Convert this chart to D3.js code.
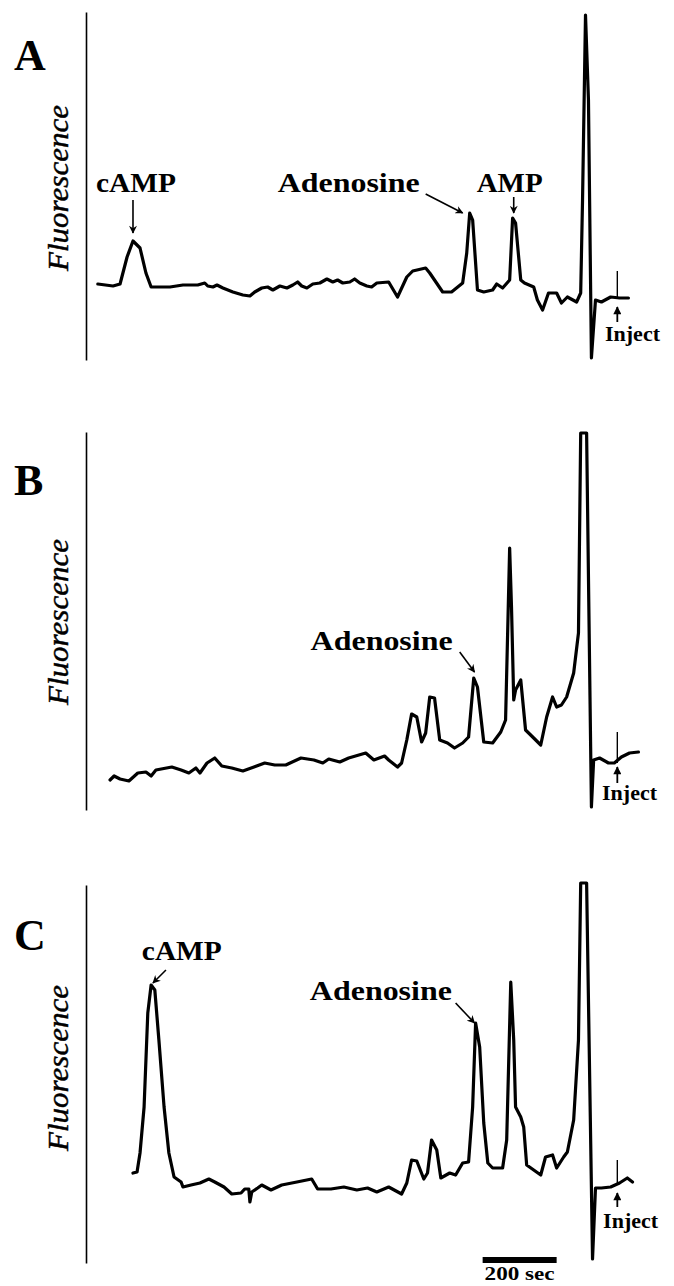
<!DOCTYPE html>
<html><head><meta charset="utf-8">
<script src="https://cdn.jsdelivr.net/npm/d3@7"></script>
<style>html,body{margin:0;padding:0;background:#fff}</style>
</head><body>
<svg id="chart" width="674" height="1286"></svg>
<script>
// ---------- DATA (time in s, fluorescence in arbitrary units) ----------
const panelLabels = ["A", "B", "C"];
const axisTitle = "Fluorescence";

const timeA = [32,73,92,111,127,146,162,176,192,227,262,302,321,329,343,354,370,397,424,443,456,475,491,505,524,543,559,572,583,597,613,632,651,667,680,694,713,726,740,759,772,786,818,842,867,883,918,929,964,988,1018,1029,1037,1045,1058,1075,1099,1110,1126,1145,1153,1161,1175,1185,1210,1220,1234,1250,1272,1285,1301,1326,1337,1342,1350,1358,1366,1377,1393,1418,1442,1466];
const fluorA = [76,74,76,103,119,112,87,73,73,73,75,75,77,74,73,75,72,68,65,64,68,72,73,70,74,72,75,78,74,72,76,77,81,78,80,77,78,81,77,74,73,77,78,63,83,89,92,87,68,68,77,107,147,140,70,68,70,76,72,80,142,137,80,77,73,60,50,67,67,57,63,58,67,160,345,260,2,60,58,63,62,62];

const timeB = [65,76,92,116,140,162,176,189,232,257,278,297,308,327,348,367,394,424,454,483,510,540,581,616,640,656,686,710,756,778,807,818,842,853,867,880,894,907,918,929,942,956,977,996,1018,1034,1048,1058,1075,1099,1121,1134,1145,1150,1156,1161,1175,1188,1210,1229,1245,1261,1272,1285,1299,1318,1331,1337,1353,1366,1372,1388,1412,1428,1447,1469,1493];
const fluorB = [30,34,31,29,37,38,34,40,43,40,37,42,37,47,52,44,42,39,43,47,45,45,52,50,47,51,48,52,57,50,54,50,43,47,70,96,93,68,77,113,112,70,67,62,67,73,132,123,68,67,78,90,262,203,110,120,130,80,72,65,93,113,103,105,113,137,177,377,377,3,50,52,47,47,53,57,58];

const timeC = [127,138,146,157,167,176,186,197,211,224,238,257,262,284,308,332,348,373,394,419,429,440,443,448,464,475,500,529,570,610,626,662,697,732,761,786,818,853,867,880,894,913,923,934,948,959,983,999,1018,1034,1045,1053,1064,1075,1086,1099,1126,1137,1148,1156,1161,1175,1183,1191,1210,1229,1242,1261,1272,1291,1301,1318,1331,1337,1353,1369,1377,1393,1418,1442,1463,1477];
const fluorC = [90,91,110,156,250,278,273,223,156,110,86,81,76,78,80,84,81,76,69,70,74,74,61,71,75,78,73,78,81,84,74,74,76,73,75,71,76,69,80,103,102,84,90,123,113,85,90,88,100,101,156,240,216,140,100,95,95,123,281,223,156,146,136,98,93,88,106,108,95,106,111,143,223,380,380,4,75,75,76,80,85,81];

// full-scale fluorescence of each panel's axis
const fullScale = [348, 378, 378];

// peak annotations: [text, textTime, textFluor, arrowFromT, arrowFromF, arrowToT, arrowToF]
const notesA = [["cAMP",135,168,127,160,127,127],["Adenosine",710,168,918,166,1018,147],["AMP",1145,168,1156,163,1156,147]];
const notesB = [["Adenosine",799,160,1010,158,1050,138]];
const notesC = [["cAMP",259,303,216,293,181,280],["Adenosine",797,263,999,260,1050,240]];

// injection marker: [time, tickFrom, tickTo, arrowFrom, arrowTip, labelTime, labelFluor]
const injectA = [1436,62,89,38,53,1477,19];
const injectB = [1436,47,78,27,43,1469,10];
const injectC = [1436,80,103,56,70,1472,35];

const scaleBarSec = [1072, 1272];
const scaleBarLabel = "200 sec";

// ---------- LAYOUT ----------
const svg = d3.select("#chart");
const x = d3.scaleLinear().domain([0, 1500]).range([86, 86 + 1500 * 0.37]);

const layout = [
  {top: 12, bottom: 360, letterY: 70, titleY: 188, t: timeA, f: fluorA, notes: notesA, inj: injectA},
  {top: 432, bottom: 810, letterY: 495, titleY: 622, t: timeB, f: fluorB, notes: notesB, inj: injectB},
  {top: 885, bottom: 1263, letterY: 950, titleY: 1068, t: timeC, f: fluorC, notes: notesC, inj: injectC}
];

const serif = "'Liberation Serif','Times New Roman',serif";

const defs = svg.append("defs");
defs.append("marker").attr("id", "ah").attr("viewBox", "0 0 10 10")
  .attr("refX", 9).attr("refY", 5).attr("markerWidth", 9).attr("markerHeight", 8)
  .attr("markerUnits", "userSpaceOnUse").attr("orient", "auto")
  .append("path").attr("d", "M0,0 L10,5 L0,10 L3,5 z").attr("fill", "#000");
defs.append("marker").attr("id", "ahi").attr("viewBox", "0 0 10 10")
  .attr("refX", 9).attr("refY", 5).attr("markerWidth", 9).attr("markerHeight", 8)
  .attr("markerUnits", "userSpaceOnUse").attr("orient", "auto")
  .append("path").attr("d", "M0,0 L10,5 L0,10 z").attr("fill", "#000");

const textLen = {"cAMP": 80, "Adenosine": 142, "AMP": 66};

layout.forEach((p, i) => {
  const y = d3.scaleLinear().domain([0, fullScale[i]]).range([p.bottom, p.top]);
  const g = svg.append("g");

  // vertical axis (domain line only)
  g.append("g").attr("transform", `translate(${x(0)},0)`)
    .call(d3.axisRight(y).ticks(0).tickSizeOuter(0))
    .call(a => a.select(".domain").attr("stroke", "#000").attr("stroke-width", 1.6));

  // panel letter
  g.append("text").attr("x", 14).attr("y", p.letterY)
    .attr("font-family", serif).attr("font-weight", "bold").attr("font-size", 44)
    .text(panelLabels[i]);

  // axis title
  g.append("text").attr("transform", `translate(68,${p.titleY}) rotate(-90)`)
    .attr("text-anchor", "middle").attr("font-family", serif).attr("font-style", "italic")
    .attr("font-size", 29).attr("textLength", 166).attr("lengthAdjust", "spacingAndGlyphs")
    .attr("stroke", "#000").attr("stroke-width", 0.45)
    .text(axisTitle);

  // trace
  const pts = p.t.map((t, k) => [t, p.f[k]]);
  g.append("path").datum(pts)
    .attr("d", d3.line().x(d => x(d[0])).y(d => y(d[1])))
    .attr("fill", "none").attr("stroke", "#000").attr("stroke-width", 3.2)
    .attr("stroke-linejoin", "round").attr("stroke-linecap", "round");

  // annotations
  p.notes.forEach(n => {
    g.append("text").attr("x", x(n[1])).attr("y", y(n[2]))
      .attr("text-anchor", "middle").attr("font-family", serif).attr("font-weight", "bold")
      .attr("font-size", 27).attr("textLength", textLen[n[0]]).attr("lengthAdjust", "spacingAndGlyphs")
      .text(n[0]);
    g.append("line").attr("x1", x(n[3])).attr("y1", y(n[4])).attr("x2", x(n[5])).attr("y2", y(n[6]))
      .attr("stroke", "#000").attr("stroke-width", 1.6).attr("marker-end", "url(#ah)");
  });

  // inject marker
  const inj = p.inj;
  g.append("line").attr("x1", x(inj[0])).attr("x2", x(inj[0])).attr("y1", y(inj[1])).attr("y2", y(inj[2]))
    .attr("stroke", "#000").attr("stroke-width", 1.4);
  g.append("line").attr("x1", x(inj[0])).attr("x2", x(inj[0])).attr("y1", y(inj[3])).attr("y2", y(inj[4]))
    .attr("stroke", "#000").attr("stroke-width", 1.8).attr("marker-end", "url(#ahi)");
  g.append("text").attr("x", x(inj[5])).attr("y", y(inj[6]))
    .attr("text-anchor", "middle").attr("font-family", serif).attr("font-weight", "bold")
    .attr("font-size", 20).attr("textLength", 55).attr("lengthAdjust", "spacingAndGlyphs")
    .text("Inject");

  // scale bar on last panel
  if (i === 2) {
    g.append("line").attr("x1", x(scaleBarSec[0])).attr("x2", x(scaleBarSec[1]))
      .attr("y1", y(3)).attr("y2", y(3)).attr("stroke", "#000").attr("stroke-width", 6);
    g.append("text").attr("x", (x(scaleBarSec[0]) + x(scaleBarSec[1])) / 2).attr("y", y(-17))
      .attr("text-anchor", "middle").attr("font-family", serif).attr("font-weight", "bold")
      .attr("font-size", 19).attr("textLength", 70).attr("lengthAdjust", "spacingAndGlyphs")
      .text(scaleBarLabel);
  }
});
</script>
</body></html>
